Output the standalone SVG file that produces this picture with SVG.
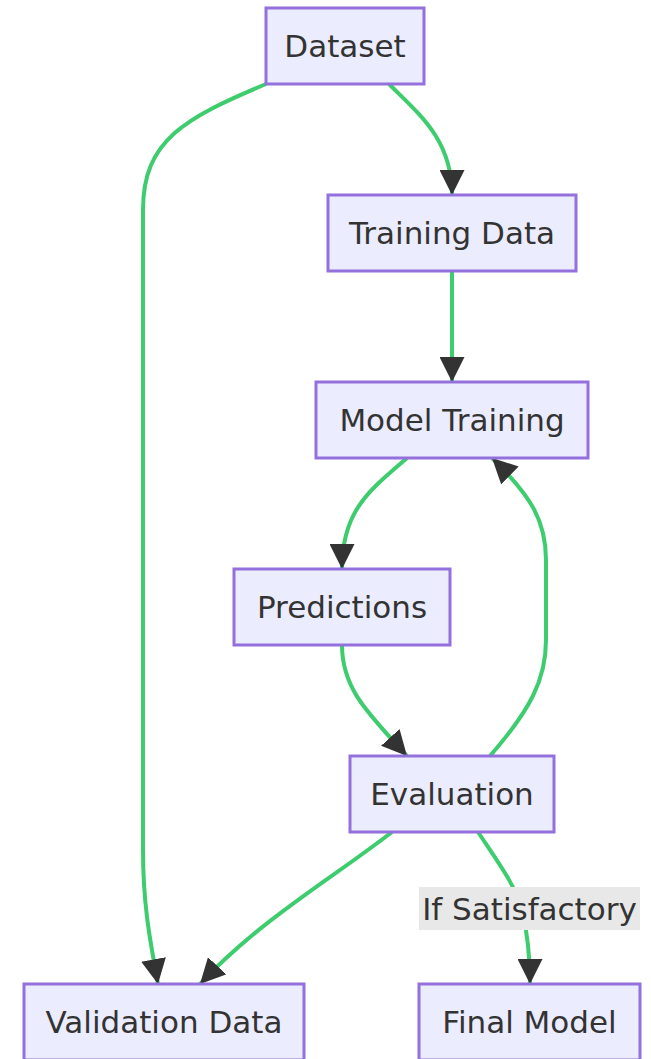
<svg xmlns="http://www.w3.org/2000/svg" width="651" height="1059" viewBox="0 0 651 1059">
  <style>
    .node rect { fill: #ECECFF; stroke: #9370DB; stroke-width: 3; }
    .node text, .label text { font-family: "DejaVu Sans", "Liberation Sans", sans-serif; font-size: 31px; fill: #333; text-anchor: middle; dominant-baseline: central; }
    .edge { fill: none; stroke: #3DCC6E; stroke-width: 4; marker-end: url(#arrow); }
    .label rect { fill: #E8E8E8; }
  </style>
  <defs>
    <marker id="arrow" viewBox="0 0 10 10" refX="10" refY="5" markerUnits="userSpaceOnUse" markerWidth="25" markerHeight="25" orient="auto">
      <path d="M0,0 L10,5 L0,10 z" fill="#333"/>
    </marker>
  </defs>

  <g id="connectors">
    <path class="edge" d="M266,84 C185,118 143,140 143,210 L143,850 C143,905 150,940 158,984"/>
    <path class="edge" d="M389,84 C420,115 452,140 452,195"/>
    <path class="edge" d="M452,271 L452,382"/>
    <path class="edge" d="M407,458 C370,490 342,510 342,569"/>
    <path class="edge" d="M342,645 C342,690 370,715 407,756"/>
    <path class="edge" d="M490,756 C530,710 546,680 546,640 L546,560 C546,520 530,495 492,458"/>
    <path class="edge" d="M392,832 C330,880 260,920 200,984"/>
    <path class="edge" d="M478,832 C500,865 515,885 522,910 C528,935 530,955 530,984"/>
    <g class="label">
      <rect x="419" y="887" width="221" height="43"/>
      <text x="529.5" y="908.5">If Satisfactory</text>
    </g>
  </g>

  <g id="dataset" class="node">
    <rect x="266" y="8" width="158" height="76"/>
    <text x="345" y="46">Dataset</text>
  </g>
  <g id="training-data" class="node">
    <rect x="328" y="195" width="248" height="76"/>
    <text x="452" y="233">Training Data</text>
  </g>
  <g id="model-training" class="node">
    <rect x="316" y="382" width="272" height="76"/>
    <text x="452" y="420">Model Training</text>
  </g>
  <g id="predictions" class="node">
    <rect x="234" y="569" width="216" height="76"/>
    <text x="342" y="607">Predictions</text>
  </g>
  <g id="evaluation" class="node">
    <rect x="350" y="756" width="204" height="76"/>
    <text x="452" y="794">Evaluation</text>
  </g>
  <g id="validation-data" class="node">
    <rect x="24" y="984" width="280" height="76"/>
    <text x="164" y="1022">Validation Data</text>
  </g>
  <g id="final-model" class="node">
    <rect x="419" y="984" width="221" height="76"/>
    <text x="529.5" y="1022">Final Model</text>
  </g>
</svg>
